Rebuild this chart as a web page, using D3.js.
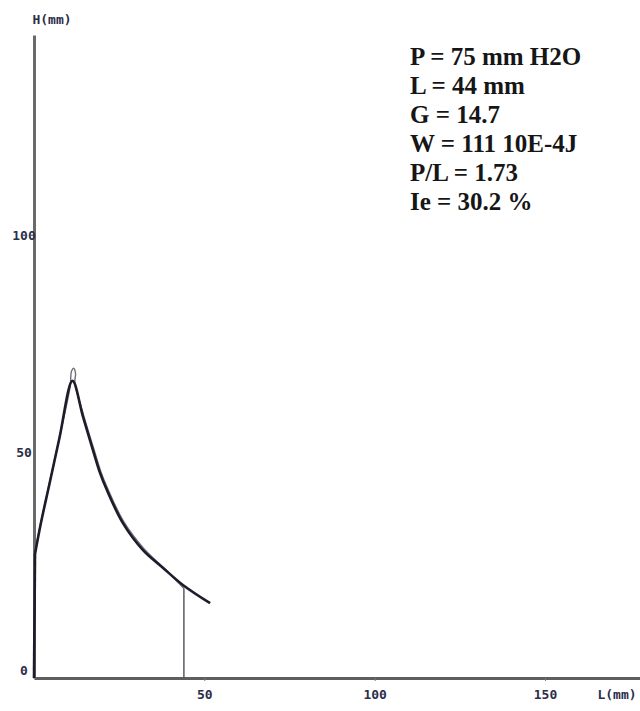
<!DOCTYPE html>
<html>
<head>
<meta charset="utf-8">
<script src="https://cdnjs.cloudflare.com/ajax/libs/d3/7.8.5/d3.min.js"></script>
<style>
	body { margin: 0; background: #fff; }
	#chart { width: 640px; height: 711px; }
	.tick-label { font-family: "DejaVu Sans Mono", monospace; font-weight: bold; font-size: 13px; fill: #2b2e48; }
	.result { font-family: "Liberation Serif", serif; font-weight: bold; font-size: 25px; fill: #161616; }
</style>
</head>
<body>
<div id="chart"></div>
<script>
// averaged alveogram curve (L in mm, H in mm)
var meanL = [0, 0.3, 2.0, 4.5, 7.5, 11.3, 14.4, 17.3, 19.4, 21.4, 26.1, 32.0, 37.9, 43.7, 51.7];
var meanH = [0, 28.5, 35.5, 44.5, 55.3, 68.3, 60, 52.4, 47.1, 43.2, 35.6, 29.4, 25.3, 21.4, 17.2];

// second trace, stops at rupture point
var traceL = [0, 0.2, 2.1, 4.6, 7.6, 10.6, 11.0, 11.6, 12.2, 12.0, 14.6, 17.5, 19.6, 21.6, 26.3, 32.2, 38.0, 42.0, 44.0];
var traceH = [0, 29, 36, 45, 55.8, 67, 70.5, 71.2, 70, 68, 60.3, 52.8, 47.5, 43.6, 36.0, 29.8, 25.4, 22.2, 20.6];

var ruptureL = 44;
var ruptureH = 20.6;

var xTicks = [50, 100, 150];
var yTicks = [0, 50, 100];

var results = ["P = 75 mm H2O", "L = 44 mm", "G = 14.7", "W = 111 10E-4J", "P/L = 1.73", "Ie = 30.2 %"];

var width = 640, height = 711;

var svg = d3.select("#chart").append("svg")
	.attr("width", width)
	.attr("height", height);

// scales: px per mm
var x = d3.scaleLinear().domain([0, 150]).range([34, 545]);
var y = d3.scaleLinear().domain([0, 100]).range([678, 243]);

// axis scales stretched to the drawn length of each axis
var xAxisScale = x.copy().domain([0, x.invert(640)]).range([34, 640]);
var yAxisScale = y.copy().domain([0, y.invert(35)]).range([678, 35]);

// x axis
var xAxis = svg.append("g")
	.attr("transform", "translate(0," + y(0) + ")")
	.call(d3.axisBottom(xAxisScale).tickValues(xTicks).tickSize(3).tickSizeOuter(0));
xAxis.select(".domain").attr("stroke", "#5e5e5e").attr("stroke-width", 3);
xAxis.selectAll(".tick line").attr("stroke", "#777");
xAxis.selectAll(".tick text")
	.attr("class", "tick-label")
	.attr("y", 17)
	.attr("dy", "0.32em");

// y axis
var yAxis = svg.append("g")
	.attr("transform", "translate(" + x(0) + ",0)")
	.call(d3.axisLeft(yAxisScale).tickValues(yTicks).tickSize(0).tickSizeOuter(0));
yAxis.select(".domain").attr("stroke", "#6a6a6a").attr("stroke-width", 3);
yAxis.selectAll(".tick text")
	.attr("class", "tick-label")
	.attr("x", -10)
	.attr("dy", "-0.3em")
	.attr("text-anchor", "middle");

// axis titles
svg.append("text")
	.attr("class", "tick-label")
	.attr("x", 52)
	.attr("y", 24)
	.attr("text-anchor", "middle")
	.text("H(mm)");

svg.append("text")
	.attr("class", "tick-label")
	.attr("x", 617)
	.attr("y", 699)
	.attr("text-anchor", "middle")
	.text("L(mm)");

var line = d3.line()
	.x(function(d) { return x(d[0]); })
	.y(function(d) { return y(d[1]); })
	.curve(d3.curveCatmullRom.alpha(0.5));

var straight = d3.line()
	.x(function(d) { return x(d[0]); })
	.y(function(d) { return y(d[1]); });

// draws one trace: straight climb off the axis, then the smooth curve
function drawTrace(L, H, color, w) {
	var pts = d3.zip(L, H);
	svg.append("path")
		.datum(pts.slice(0, 2))
		.attr("d", straight)
		.attr("fill", "none")
		.attr("stroke", color)
		.attr("stroke-width", w);
	svg.append("path")
		.datum(pts.slice(1))
		.attr("d", line)
		.attr("fill", "none")
		.attr("stroke", color)
		.attr("stroke-width", w)
		.attr("stroke-linejoin", "round");
}

drawTrace(traceL, traceH, "#6f6f78", 1.4);
drawTrace(meanL, meanH, "#1c1c2a", 2.6);

// rupture drop line
svg.append("line")
	.attr("x1", x(ruptureL))
	.attr("x2", x(ruptureL))
	.attr("y1", y(ruptureH))
	.attr("y2", y(0))
	.attr("stroke", "#5a5a62")
	.attr("stroke-width", 1.5);

// results block
svg.selectAll(".result")
	.data(results)
	.enter()
	.append("text")
	.attr("class", "result")
	.attr("x", 410)
	.attr("y", function(d, i) { return 65 + i * 29; })
	.text(function(d) { return d; });
</script>
</body>
</html>
